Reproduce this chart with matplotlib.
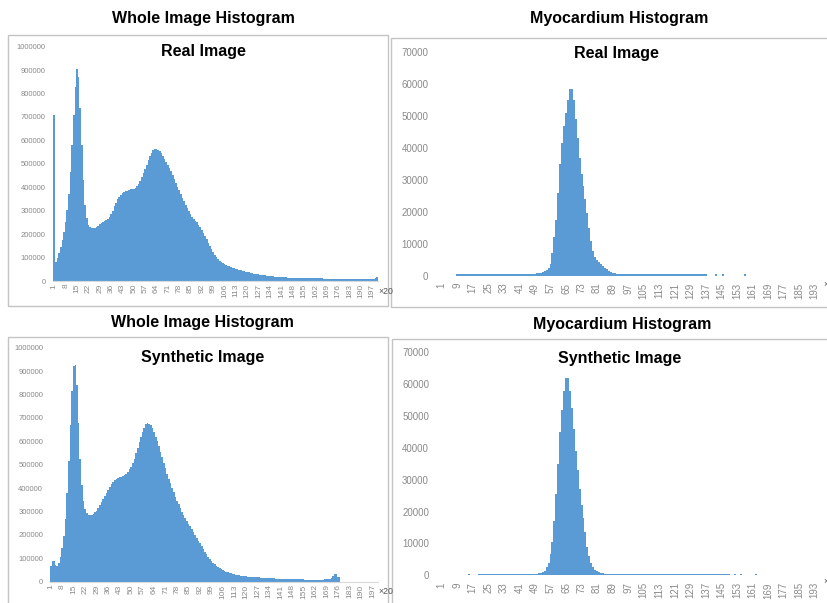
import matplotlib
matplotlib.use('Agg')
import matplotlib.pyplot as plt
from matplotlib.patches import Rectangle

# ──────────────────────────────────────────────
# Histogram counts (bins 1..200)
# ──────────────────────────────────────────────

REAL_WHOLE = [
    708000, 82000, 100000, 120000, 145000, 175000, 210000, 250000, 305000, 370000,
    465000, 580000, 710000, 830000, 903000, 870000, 740000, 580000, 430000, 325000,
    270000, 240000, 230000, 225000, 225000, 228000, 232000, 236000, 242000, 247000,
    250000, 255000, 260000, 266000, 274000, 285000, 300000, 318000, 333000, 348000,
    360000, 369000, 376000, 380000, 382000, 385000, 388000, 391000, 393000, 394000,
    398000, 405000, 415000, 428000, 443000, 460000, 477000, 497000, 515000, 532000,
    548000, 558000, 565000, 563000, 560000, 555000, 545000, 533000, 520000, 507000,
    495000, 482000, 468000, 452000, 435000, 420000, 403000, 388000, 372000, 355000,
    340000, 325000, 310000, 297000, 285000, 275000, 265000, 258000, 250000, 240000,
    230000, 218000, 205000, 192000, 178000, 164000, 150000, 137000, 124000, 112000,
    102000, 94000, 87000, 81000, 77000, 73000, 69000, 65000, 62000, 59000,
    57000, 55000, 53000, 51000, 48000, 46000, 44000, 42000, 40000, 38000,
    36500, 35000, 33500, 32000, 30500, 29000, 28000, 27000, 26000, 25000,
    24000, 23000, 22000, 21000, 20000, 19300, 18600, 18000, 17400, 16800,
    16300, 15800, 15400, 15000, 14600, 14200, 13800, 13500, 13200, 13000,
    12800, 12600, 12400, 12200, 12000, 11800, 11600, 11500, 11400, 11300,
    11200, 11100, 11000, 10900, 10800, 10700, 10600, 10500, 10400, 10300,
    10200, 10100, 10000, 9900, 9800, 9700, 9600, 9500, 9400, 9300,
    9200, 9100, 9000, 8900, 8800, 8700, 8600, 8500, 8400, 8300,
    8200, 8100, 8000, 8000, 8000, 8000, 8000, 9000, 14000, 15000,
]

SYN_WHOLE = [
    68000, 90000, 88000, 72000, 68000, 82000, 105000, 142000, 195000, 270000,
    380000, 515000, 670000, 815000, 920000, 925000, 840000, 680000, 525000, 415000,
    345000, 310000, 292000, 286000, 284000, 286000, 290000, 296000, 304000, 314000,
    326000, 340000, 355000, 368000, 380000, 392000, 405000, 418000, 428000, 435000,
    440000, 444000, 446000, 448000, 450000, 455000, 462000, 470000, 480000, 492000,
    507000, 525000, 548000, 572000, 597000, 620000, 640000, 658000, 672000, 678000,
    676000, 668000, 655000, 638000, 620000, 600000, 578000, 555000, 532000, 508000,
    485000, 462000, 440000, 420000, 400000, 382000, 364000, 346000, 330000, 315000,
    300000, 286000, 272000, 260000, 248000, 236000, 224000, 212000, 200000, 188000,
    176000, 164000, 152000, 140000, 128000, 117000, 106000, 96000, 87000, 80000,
    74000, 68000, 63000, 58000, 54000, 50000, 46500, 43500, 41000, 38500,
    36000, 34000, 32000, 30500, 29000, 27500, 26000, 25000, 24000, 23000,
    22200, 21500, 20800, 20200, 19600, 19000, 18500, 18000, 17500, 17000,
    16500, 16000, 15600, 15200, 14800, 14400, 14000, 13600, 13300, 13000,
    12700, 12400, 12100, 11800, 11500, 11300, 11100, 10900, 10700, 10500,
    10300, 10100, 9900, 9700, 9500, 9300, 9100, 8900, 8700, 8500,
    8300, 8200, 8200, 8300, 8500, 8800, 9200, 9800, 10500, 11500,
    13500, 17000, 24000, 32000, 34000, 22000, 18000, 0, 0, 0,
    0, 0, 0, 0, 0, 0, 0, 0, 0, 0,
    0, 0, 0, 0, 0, 0, 0, 0, 0, 0,
]

MYO_REAL = [
    0, 0, 0, 0, 0, 0, 0, 0, 500, 500,
    500, 500, 500, 500, 500, 500, 500, 500, 500, 500,
    500, 500, 500, 500, 500, 500, 500, 500, 500, 500,
    500, 500, 500, 500, 500, 500, 500, 500, 500, 500,
    500, 500, 500, 500, 520, 540, 560, 600, 650, 720,
    800, 950, 1150, 1400, 1800, 2400, 3800, 7000, 12000, 17500,
    26000, 35000, 41500, 47000, 51000, 55000, 58500, 58500, 55000, 49000,
    43000, 37000, 32000, 28000, 24000, 19500, 15000, 10800, 7800, 6000,
    5000, 4300, 3600, 3000, 2500, 2000, 1600, 1300, 1000, 800,
    650, 550, 500, 500, 500, 500, 500, 500, 500, 500,
    500, 500, 500, 500, 500, 500, 500, 500, 500, 500,
    500, 500, 500, 500, 500, 500, 500, 500, 500, 500,
    500, 500, 500, 500, 500, 500, 500, 500, 500, 500,
    500, 500, 500, 500, 500, 500, 500, 0, 0, 0,
    0, 500, 0, 0, 0, 500, 0, 0, 0, 0,
    0, 0, 0, 0, 0, 0, 500, 0, 0, 0,
    0, 0, 0, 0, 0, 0, 0, 0, 0, 0,
    0, 0, 0, 0, 0, 0, 0, 0, 0, 0,
    0, 0, 0, 0, 0, 0, 0, 0, 0, 0,
    0, 0, 0, 0, 0, 0, 0, 0, 0, 0,
]

MYO_SYN = [
    0, 0, 0, 0, 0, 0, 0, 0, 0, 0,
    0, 0, 0, 0, 500, 0, 0, 0, 0, 500,
    500, 500, 500, 500, 500, 500, 500, 500, 500, 500,
    500, 500, 500, 500, 500, 500, 500, 500, 500, 500,
    500, 500, 500, 500, 500, 500, 500, 500, 520, 560,
    620, 700, 900, 1500, 2500, 4000, 6800, 10300, 17000, 25500,
    35000, 45000, 52000, 58000, 62000, 62000, 58000, 52400, 45800, 39000,
    33000, 27000, 22000, 18000, 13500, 9000, 6000, 4000, 2700, 1800,
    1200, 900, 700, 600, 550, 500, 500, 500, 500, 500,
    500, 500, 500, 500, 500, 500, 500, 500, 500, 500,
    500, 500, 500, 500, 500, 500, 500, 500, 500, 500,
    500, 500, 500, 500, 500, 500, 500, 500, 500, 500,
    500, 500, 500, 500, 500, 500, 500, 500, 500, 500,
    500, 500, 500, 500, 500, 500, 500, 500, 500, 500,
    500, 500, 500, 500, 500, 500, 500, 500, 500, 0,
    0, 500, 0, 0, 500, 0, 0, 0, 0, 0,
    0, 0, 500, 0, 0, 0, 0, 0, 0, 0,
    0, 0, 0, 0, 0, 0, 0, 0, 0, 0,
    0, 0, 0, 0, 0, 0, 0, 0, 0, 0,
    0, 0, 0, 0, 0, 0, 0, 0, 0, 0,
]

BINS = list(range(1, 201))
WHOLE_TICKS = list(range(1, 198, 7))
MYO_TICKS = list(range(1, 194, 8))
WHOLE_YTICKS = list(range(0, 1000001, 100000))
MYO_YTICKS = list(range(0, 70001, 10000))

OUTER_TITLES = ['Whole Image Histogram', 'Myocardium Histogram']
INNER_TITLES = ['Real Image', 'Synthetic Image']

# ──────────────────────────────────────────────
# layout helpers (pixel coordinates, y from top)
# ──────────────────────────────────────────────

W, H = 828, 603
BLUE = '#5B9BD5'
GREY = '#8a8a8a'
FONT = 'Liberation Sans'


def fig_rect(l, t, r, b):
    return [l / W, 1 - b / H, (r - l) / W, (b - t) / H]


def fig_text(fig, x, y, s, **kw):
    fig.text(x / W, 1 - y / H, s, family=FONT, **kw)


def draw_panel(fig, values, p):
    """one framed histogram panel"""
    l, t, r, b = p['box']
    fig.add_artist(Rectangle((l / W, 1 - b / H), (r - l) / W, (b - t) / H,
                             transform=fig.transFigure, fill=False,
                             edgecolor='#c4c4c4', linewidth=1.0))

    ax = fig.add_axes(fig_rect(*p['axes']))
    ax.bar(BINS, values, width=1.0, color=BLUE, linewidth=0)
    ax.set_xlim(0.5, p['xmax'])
    ax.set_ylim(0, p['ymax'])
    for side in ['top', 'right', 'left']:
        ax.spines[side].set_visible(False)
    if p['baseline']:
        ax.spines['bottom'].set_color('#d9d9d9')
        ax.spines['bottom'].set_linewidth(0.8)
    else:
        ax.spines['bottom'].set_visible(False)

    ax.set_xticks(p['xticks'])
    ax.set_xticklabels([str(v) for v in p['xticks']], rotation=90,
                       fontsize=p['xfs'], color=GREY, family=FONT)
    ax.set_yticks(p['yticks'])
    ax.set_yticklabels([str(v) for v in p['yticks']],
                       fontsize=p['yfs'], color=GREY, family=FONT)
    ax.tick_params(axis='x', length=0, pad=p['xpad'])
    ax.tick_params(axis='y', length=0, pad=p['ypad'])

    fig_text(fig, *p['outer'], p['outer_txt'], ha='center', va='center',
             fontsize=11.5, fontweight='bold', color='black')
    fig_text(fig, *p['inner'], p['inner_txt'], ha='center', va='center',
             fontsize=11.5, fontweight='bold', color='black')
    fig_text(fig, *p['suffix'], p['suffix_txt'], ha='left', va='center',
             fontsize=6.3, color='#555555')


def main():
    fig = plt.figure(figsize=(W / 100, H / 100), dpi=100)

    whole = dict(xmax=200.5, ymax=1000000, xticks=WHOLE_TICKS, yticks=WHOLE_YTICKS,
                 xfs=6.0, yfs=5.5, xpad=2.0, suffix_txt='×20', baseline=True)
    myo = dict(xmax=197.5, ymax=70000, xticks=MYO_TICKS, yticks=MYO_YTICKS,
               xfs=7.0, yfs=7.0, xpad=5.0, suffix_txt='×', baseline=False)

    panels = [
        (REAL_WHOLE, dict(whole, box=(8, 35, 388, 306), axes=(53.5, 46.7, 377.9, 281),
                          ypad=5.6, outer=(203, 18), inner=(203, 51.5),
                          suffix=(378, 291), outer_txt=OUTER_TITLES[0],
                          inner_txt=INNER_TITLES[0])),
        (MYO_REAL, dict(myo, box=(391, 37.7, 840, 307.3), axes=(440.7, 52.3, 823.5, 275.7),
                        ypad=8.9, outer=(619, 18.5), inner=(616.7, 53.3),
                        suffix=(823, 285), outer_txt=OUTER_TITLES[1],
                        inner_txt=INNER_TITLES[0])),
        (SYN_WHOLE, dict(whole, box=(8, 336.7, 388, 612), axes=(49.9, 347.7, 378.1, 581.7),
                         ypad=4.8, outer=(202, 322.7), inner=(202.5, 357.3),
                         suffix=(378, 592), outer_txt=OUTER_TITLES[0],
                         inner_txt=INNER_TITLES[1])),
        (MYO_SYN, dict(myo, box=(391.7, 339, 840, 612), axes=(440.7, 352.3, 823.5, 575.3),
                       ypad=8.4, outer=(622, 324), inner=(619.2, 359),
                       suffix=(823, 582), outer_txt=OUTER_TITLES[1],
                       inner_txt=INNER_TITLES[1])),
    ]
    for values, p in panels:
        draw_panel(fig, values, p)

    fig.savefig('out.png', dpi=100, facecolor='white')
    plt.close(fig)


if __name__ == '__main__':
    main()
